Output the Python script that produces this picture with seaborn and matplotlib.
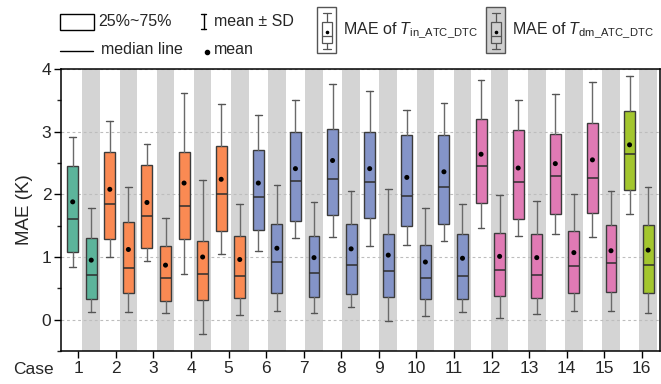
import numpy as np
import pandas as pd
import matplotlib
matplotlib.use("Agg")
import matplotlib.pyplot as plt
import seaborn as sns
from matplotlib.patches import Rectangle

# MAE statistics per case
cases = [str(k) for k in range(1, 17)]

# T_in_ATC_DTC
in_q1 = [1.08, 1.29, 1.14, 1.29, 1.41, 1.43, 1.58, 1.67, 1.63, 1.49, 1.53, 1.86, 1.61, 1.69, 1.70, 2.07]
in_med = [1.60, 1.85, 1.65, 1.82, 2.00, 1.96, 2.22, 2.24, 2.20, 1.97, 2.11, 2.46, 2.20, 2.29, 2.26, 2.64]
in_q3 = [2.45, 2.67, 2.47, 2.68, 2.77, 2.70, 2.99, 3.05, 3.00, 2.94, 2.95, 3.21, 3.02, 2.97, 3.14, 3.33]
in_mean = [1.88, 2.08, 1.87, 2.18, 2.24, 2.18, 2.41, 2.54, 2.41, 2.27, 2.36, 2.64, 2.42, 2.49, 2.55, 2.79]
in_sd = [1.035, 1.085, 0.93, 1.445, 1.195, 1.09, 1.10, 1.215, 1.24, 1.075, 1.10, 1.185, 1.08, 1.115, 1.235, 1.10]

# T_dm_ATC_DTC
dm_q1 = [0.33, 0.42, 0.30, 0.32, 0.34, 0.43, 0.36, 0.41, 0.36, 0.33, 0.33, 0.38, 0.34, 0.42, 0.44, 0.42]
dm_med = [0.71, 0.83, 0.66, 0.73, 0.70, 0.92, 0.74, 0.88, 0.77, 0.66, 0.70, 0.79, 0.72, 0.86, 0.91, 0.88]
dm_q3 = [1.31, 1.56, 1.18, 1.25, 1.34, 1.52, 1.33, 1.53, 1.36, 1.19, 1.37, 1.38, 1.36, 1.42, 1.51, 1.51]
dm_mean = [0.95, 1.12, 0.87, 1.00, 0.96, 1.14, 0.99, 1.13, 1.03, 0.92, 0.98, 1.01, 0.99, 1.07, 1.10, 1.11]
dm_sd = [0.835, 1.005, 0.76, 1.23, 0.88, 1.005, 0.88, 0.925, 1.055, 0.855, 0.865, 0.98, 0.905, 0.935, 0.955, 1.00]

# colour group of each case
case_group = ["g", "o", "o", "o", "o", "b", "b", "b", "b", "b", "b", "p", "p", "p", "p", "l"]
group_colors = {"g": "#5cb49b", "o": "#fa8a53", "b": "#8494c8", "p": "#e07ab4", "l": "#a3c62e"}

sns.set_style("white")
plt.rcParams["font.family"] = ["Liberation Sans", "DejaVu Sans"]
plt.rcParams["mathtext.fontset"] = "custom"
plt.rcParams["mathtext.rm"] = "Liberation Sans"
plt.rcParams["mathtext.it"] = "Liberation Sans:italic"

# interleave in / dm boxes
def weave(a, b):
    return np.column_stack([a, b]).ravel()

q1 = weave(in_q1, dm_q1)
med = weave(in_med, dm_med)
q3 = weave(in_q3, dm_q3)
mean = weave(in_mean, dm_mean)
sd = weave(in_sd, dm_sd)
pos = np.arange(len(q1))

df = pd.DataFrame({"pos": pos, "q1": q1, "med": med, "q3": q3, "mean": mean, "sd": sd,
                   "color": [group_colors[g] for g in np.repeat(case_group, 2)]})

stats = [dict(q1=r.q1, med=r.med, q3=r.q3, whislo=r.mean - r.sd, whishi=r.mean + r.sd, fliers=[])
         for r in df.itertuples()]

fig = plt.figure(figsize=(6.61, 3.84), dpi=100)
ax = fig.add_axes([61 / 661, 1 - 351 / 384, 599 / 661, 282 / 384])

# grey bands behind the dm boxes
for p in pos[1::2]:
    ax.axvspan(p - 0.475, p + 0.475, color="#d4d4d4", lw=0, zorder=0.2)

bp = ax.bxp(stats, positions=pos, widths=0.59, capwidths=0.36, patch_artist=True,
            showfliers=False,
            boxprops=dict(edgecolor="#3c3c3c", linewidth=1.0),
            whiskerprops=dict(color="#6a6a6a", linewidth=1.0),
            capprops=dict(color="#555555", linewidth=1.0),
            medianprops=dict(color="#2e2e2e", linewidth=1.1),
            zorder=3)
for box, c in zip(bp["boxes"], df["color"]):
    box.set_facecolor(c)

sns.scatterplot(data=df, x="pos", y="mean", color="black", s=13, edgecolor="none",
                zorder=5, legend=False, ax=ax)

ax.set_xlim(-0.63, 31.64)
ax.set_ylim(-0.48, 4)
ax.set_xticks(np.linspace(0.30, 30.66, 16), labels=cases)
ax.set_yticks([0, 1, 2, 3, 4])
ax.set_yticks(np.arange(-0.5, 4, 1.0), minor=True)
ax.set_xlabel("")
ax.set_ylabel("MAE (K)", fontsize=13.5, labelpad=6)
ax.tick_params(axis="both", which="major", direction="out", length=5, width=1,
               labelsize=12.5, color="black", bottom=True, left=True, pad=2)
ax.tick_params(axis="y", which="minor", direction="out", length=3, width=1, left=True)
ax.yaxis.grid(True, which="major", linestyle=(0, (2.5, 2.5)), color="#bdbdbd", linewidth=0.8)
ax.set_axisbelow(True)
for s in ax.spines.values():
    s.set_color("black")
    s.set_linewidth(1.1)

fig.text(13 / 661, 1 - 370 / 384, "Case", fontsize=12.5, va="center", ha="left")

# legend drawn in pixel coordinates on an overlay
lax = fig.add_axes([0, 0, 1, 1])
lax.set_xlim(0, 661)
lax.set_ylim(384, 0)
lax.axis("off")
fs = 11.5
lax.add_patch(Rectangle((60, 13.5), 34, 16, facecolor="white", edgecolor="black", lw=1))
lax.text(98, 21.5, "25%~75%", fontsize=fs, va="center")
lax.plot([60, 93], [50.5, 50.5], color="black", lw=1)
lax.text(101, 50, "median line", fontsize=fs, va="center")
lax.plot([203.5, 203.5], [13.5, 29], color="black", lw=1)
lax.plot([201, 206], [13.5, 13.5], color="black", lw=1)
lax.plot([201, 206], [29, 29], color="black", lw=1)
lax.text(214, 21.5, "mean ± SD", fontsize=fs, va="center")
lax.plot([206.5], [51.5], "o", color="black", ms=3)
lax.text(214, 50, "mean", fontsize=fs, va="center")

for x0, fill, label in [(317, "white", r"MAE of $T_{\mathrm{in\_ATC\_DTC}}$"),
                        (486, "#cfcfcf", r"MAE of $T_{\mathrm{dm\_ATC\_DTC}}$")]:
    cx = x0 + 9.5
    lax.add_patch(Rectangle((x0, 7), 19, 46, facecolor=fill, edgecolor="#555555", lw=1))
    lax.plot([cx, cx], [13, 49], color="#555555", lw=0.9)
    lax.plot([cx - 4, cx + 4], [13, 13], color="#555555", lw=0.9)
    lax.plot([cx - 4, cx + 4], [49, 49], color="#555555", lw=0.9)
    lax.add_patch(Rectangle((cx - 5, 22), 10, 21, facecolor=fill, edgecolor="#555555", lw=0.9, zorder=3))
    lax.plot([cx - 5, cx + 5], [36, 36], color="#555555", lw=0.9, zorder=4)
    lax.plot([cx], [31.5], "o", color="black", ms=1.6, zorder=5)
    lax.text(x0 + 26, 30, label, fontsize=fs, va="center")

fig.savefig("out.png", dpi=100)
